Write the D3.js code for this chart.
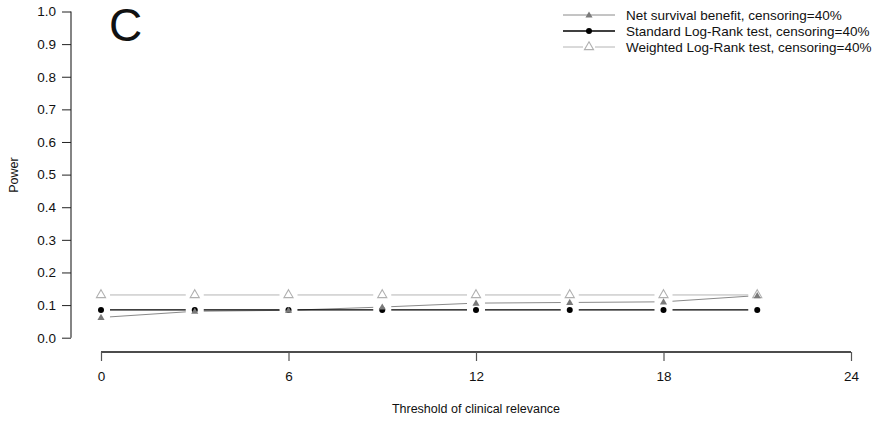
<!DOCTYPE html>
<html>
<head>
<meta charset="utf-8">
<script src="https://cdn.jsdelivr.net/npm/d3@7"></script>
<style>
  html, body { margin: 0; padding: 0; background: #fff; }
  svg { display: block; font-family: "Liberation Sans", Arial, sans-serif; }
</style>
</head>
<body>
<svg id="chart" width="878" height="424"></svg>
<script>
// Threshold values (x) and power for each test
const thresholds = [0, 3, 6, 9, 12, 15, 18, 21];
const netBenefit = [0.062, 0.081, 0.084, 0.094, 0.106, 0.108, 0.110, 0.129];
const standardLR = [0.085, 0.085, 0.085, 0.085, 0.085, 0.085, 0.085, 0.085];
const weightedLR = [0.131, 0.131, 0.131, 0.131, 0.131, 0.131, 0.131, 0.131];
const xTicks = [0, 6, 12, 18, 24];
const yTicks = [0, 0.1, 0.2, 0.3, 0.4, 0.5, 0.6, 0.7, 0.8, 0.9, 1.0];
const seriesNames = [
  "Net survival benefit, censoring=40%",
  "Standard Log-Rank test, censoring=40%",
  "Weighted Log-Rank test, censoring=40%"
];

const svg = d3.select("#chart");
const x = d3.scaleLinear().domain([0, 24]).range([101, 851]);
const y = d3.scaleLinear().domain([0, 1]).range([337.7, 11.5]);

// Y axis (line spans first to last tick)
const yAxis = svg.append("g").attr("transform", "translate(71,0)")
  .call(d3.axisLeft(y).tickValues(yTicks).tickFormat(d3.format(".1f")).tickSize(9).tickPadding(6));
yAxis.select(".domain").attr("d", `M0,${y(0)}V${y(1)}`).attr("stroke", "#666").attr("stroke-width", 1.6);
yAxis.selectAll(".tick line").attr("stroke", "#222");
yAxis.selectAll(".tick text").attr("font-size", 13.5).attr("fill", "#111")
  .attr("font-family", "Liberation Sans, Arial, sans-serif");

// X axis, detached below the plot
const xAxis = svg.append("g").attr("transform", "translate(0,352)")
  .call(d3.axisBottom(x).tickValues(xTicks).tickSize(0).tickPadding(19));
xAxis.select(".domain").attr("d", `M${x(0)},0H${x(24)}`).attr("stroke", "#111").attr("stroke-width", 1.3);
xAxis.selectAll(".tick line").attr("y2", 9).attr("stroke", "#555").attr("stroke-width", 1.2);
xAxis.selectAll(".tick text").attr("font-size", 13.5).attr("fill", "#111")
  .attr("font-family", "Liberation Sans, Arial, sans-serif");

// Axis titles
svg.append("text").attr("x", x(12)).attr("y", 413).attr("text-anchor", "middle")
  .attr("font-size", 12.5).attr("fill", "#111").text("Threshold of clinical relevance");
svg.append("text").attr("transform", "translate(18,175) rotate(-90)").attr("text-anchor", "middle")
  .attr("font-size", 12.5).attr("fill", "#111").text("Power");

// Panel letter
svg.append("text").attr("x", 109).attr("y", 41).attr("font-size", 46)
  .attr("fill", "#111").text("C");

const series = [
  { name: seriesNames[0], values: netBenefit, line: "#8a8a8a", width: 1, marker: "triFilled", mColor: "#7a7a7a" },
  { name: seriesNames[1], values: standardLR, line: "#000", width: 1.3, marker: "dot", mColor: "#000" },
  { name: seriesNames[2], values: weightedLR, line: "#b4b4b4", width: 1, marker: "triOpen", mColor: "#b0b0b0" }
];

function drawMarker(g, kind, cx, cy, color) {
  if (kind === "dot") {
    g.append("circle").attr("cx", cx).attr("cy", cy).attr("r", 3).attr("fill", color);
  } else if (kind === "triFilled") {
    g.append("path").attr("d", d3.symbol(d3.symbolTriangle, 22)())
      .attr("transform", `translate(${cx},${cy + 0.5})`).attr("fill", color);
  } else {
    g.append("path").attr("d", d3.symbol(d3.symbolTriangle, 36)())
      .attr("transform", `translate(${cx},${cy})`).attr("fill", "none").attr("stroke", color).attr("stroke-width", 1.1);
  }
}

// Lines with gaps around each point, then markers
const gap = 9;
series.forEach(s => {
  const g = svg.append("g");
  for (let i = 0; i < thresholds.length - 1; i++) {
    const x1 = x(thresholds[i]), y1 = y(s.values[i]);
    const x2 = x(thresholds[i + 1]), y2 = y(s.values[i + 1]);
    const len = Math.hypot(x2 - x1, y2 - y1);
    const ux = (x2 - x1) / len, uy = (y2 - y1) / len;
    g.append("line")
      .attr("x1", x1 + ux * gap).attr("y1", y1 + uy * gap)
      .attr("x2", x2 - ux * gap).attr("y2", y2 - uy * gap)
      .attr("stroke", s.line).attr("stroke-width", s.width);
  }
});
[2, 1, 0].forEach(k => {
  const s = series[k];
  const g = svg.append("g");
  thresholds.forEach((t, i) => drawMarker(g, s.marker, x(t), y(s.values[i]), s.mColor));
});

// Legend
const legend = svg.append("g");
series.forEach((s, i) => {
  const ly = 15 + i * 16;
  legend.append("line").attr("x1", 563).attr("x2", 615).attr("y1", ly).attr("y2", ly)
    .attr("stroke", s.line).attr("stroke-width", s.width);
  if (s.marker === "triOpen") {
    legend.append("rect").attr("x", 583).attr("y", ly - 5).attr("width", 12).attr("height", 9).attr("fill", "#fff");
  }
  drawMarker(legend, s.marker, 589, ly, s.mColor);
  legend.append("text").attr("x", 626).attr("y", ly + 4.5).attr("font-size", 13.5).attr("fill", "#111").text(s.name);
});
</script>
</body>
</html>
